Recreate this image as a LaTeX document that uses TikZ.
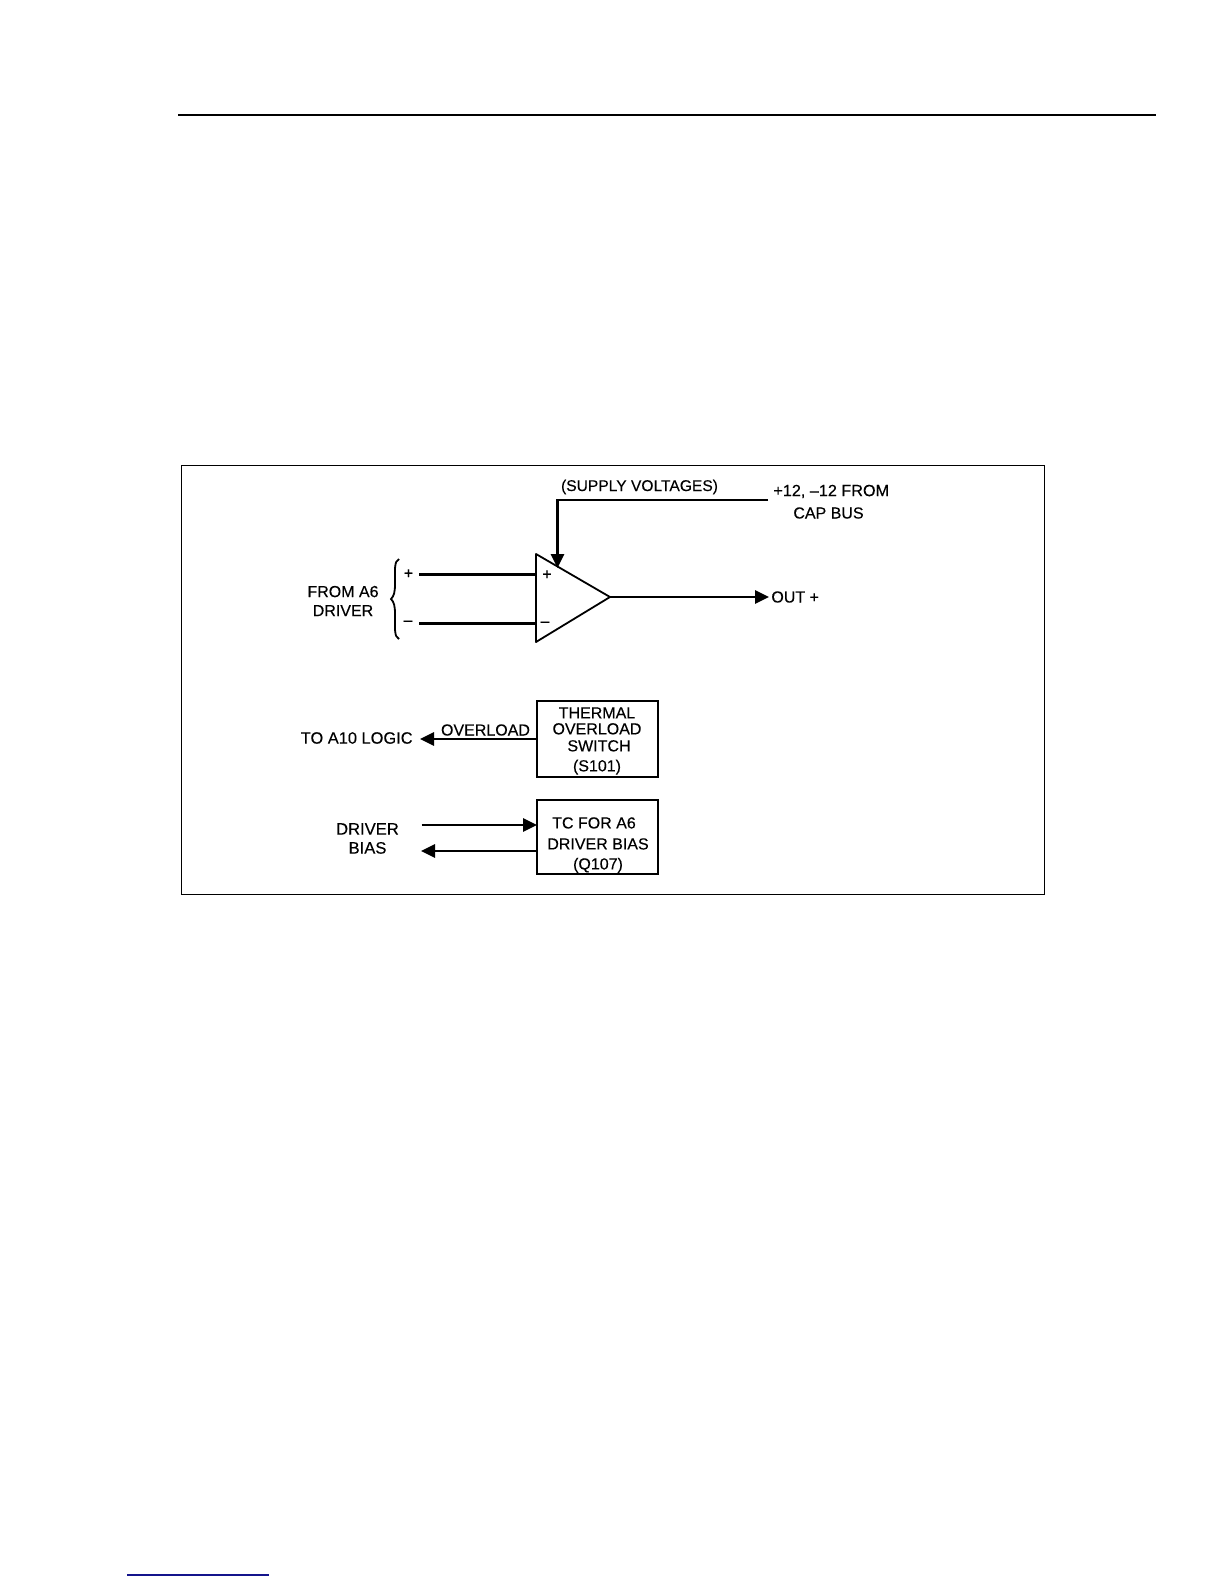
\documentclass[tikz,border=0pt]{standalone}
\usepackage{fontspec}
\usepackage{xcolor}
\setmainfont[FakeBold=0.25]{Liberation Sans}
\usetikzlibrary{arrows.meta}
\definecolor{linkblue}{RGB}{20,20,140}
\tikzset{
  lbl/.style={font=\fontsize{8bp}{8.8bp}\selectfont,inner sep=0pt,align=center},
  wire/.style={line width=1.4bp},
  wirearrow/.style={wire,-{Triangle[length=7bp,width=6.5bp]}},
  blockbox/.style={draw,line width=1bp,minimum width=60.5bp,inner sep=0pt}
}
\begin{document}
\begin{tikzpicture}[x=0.5bp,y=-0.5bp]
\useasboundingbox (0,0) rectangle (1224,1584);
\draw[line width=1bp] (178,114.5) -- (1156,114.5);
\draw[line width=0.5bp] (181,465) rectangle (1044,894);
% amplifier
\coordinate (ampnw) at (536,554);
\coordinate (ampsw) at (536,642);
\coordinate (ampout) at (610,597);
\draw[line width=0.9bp,line join=round] (ampnw) -- (ampout) -- (ampsw) -- cycle;
\node[lbl] (amppl) at (547,575) {+};
\node[lbl] (ampmi) at (545,624) {--};
% inputs
\coordinate (inplus) at (419,574.5);
\coordinate (inminus) at (419,623.5);
\coordinate (ampplus) at (536,574.5);
\coordinate (ampminus) at (536,623.5);
\draw[wire] (inplus) -- (ampplus);
\draw[wire] (inminus) -- (ampminus);
\node[lbl] (plussign) at (408.5,574) {+};
\node[lbl] (minussign) at (408,623) {--};
\draw[line width=0.9bp] (399,559) .. controls (394,561) and (395,570) .. (395,584)
  .. controls (395,592) and (394,596) .. (391,599)
  .. controls (394,602) and (395,606) .. (395,614)
  .. controls (395,628) and (394,637) .. (399,639);
\node[lbl] (fromdrv) at (343,601) {FROM A6\\[0.7bp]DRIVER};
% supply
\coordinate (supright) at (768,500);
\coordinate (supcorner) at (557.5,500);
\coordinate (supin) at (557.5,568);
\draw[wirearrow] (supright) -- (supcorner) -- (supin);
\node[lbl,font=\fontsize{7.8bp}{8.8bp}\selectfont] (suplabel) at (639.5,487) {(SUPPLY VOLTAGES)};
\node[lbl,anchor=west,font=\fontsize{8.1bp}{8.8bp}\selectfont] (capbus) at (773,491.5) {+12, --12 FROM};
\node[lbl] (capbustwo) at (828.5,513) {CAP BUS};
% output
\node[lbl,anchor=west] (outplus) at (771,597) {OUT +};
\coordinate (outend) at (769,597);
\draw[wirearrow] (ampout) -- (outend);
% thermal switch
\node[blockbox,minimum height=38bp] (thermal) at (597,739) {};
\node[lbl] (thermaltxt) at (597,741) {THERMAL\\[-0.8bp]OVERLOAD\\[-0.3bp]\hspace*{2bp}SWITCH\\[1.2bp](S101)};
\node[lbl,anchor=east,font=\fontsize{8.2bp}{8.8bp}\selectfont] (toaten) at (413,738) {TO A10 LOGIC};
\coordinate (toatenend) at (420,739);
\draw[wirearrow] (thermal.west) -- (toatenend);
\node[lbl] (overload) at (485.5,730) {OVERLOAD};
% driver bias
\node[blockbox,minimum height=37bp] (tcblock) at (597.5,837) {};
\node[lbl] (tctxt) at (598,845) {TC FOR A6\hspace*{4bp}\\[1.7bp]DRIVER BIAS\\[1.2bp](Q107)};
\coordinate (biasinstart) at (421.5,825);
\coordinate (biasinend) at (537,825);
\coordinate (biasoutstart) at (537,851);
\coordinate (biasoutend) at (421,851);
\draw[wirearrow] (biasinstart) -- (biasinend);
\draw[wirearrow] (biasoutstart) -- (biasoutend);
\node[lbl,font=\fontsize{8.3bp}{8.8bp}\selectfont] (driverbias) at (367.5,838.5) {DRIVER\\[0.7bp]BIAS};
\draw[linkblue,line width=0.7bp] (127,1575) -- (269,1575);
\end{tikzpicture}
\end{document}
